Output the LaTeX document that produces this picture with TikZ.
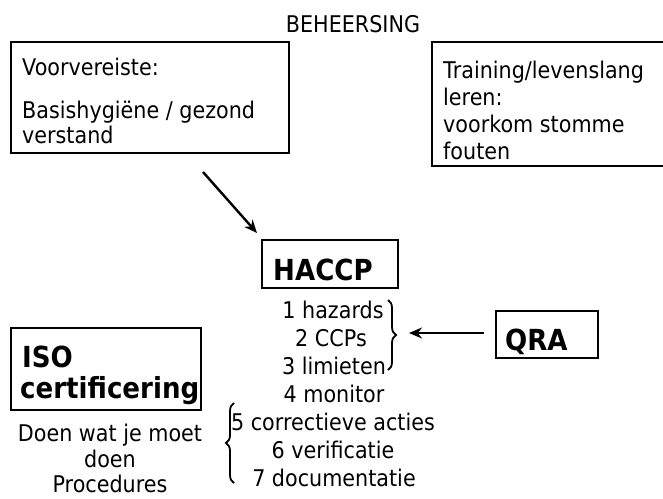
\documentclass[tikz,border=0pt]{standalone}
\usepackage{fontspec}
\setmainfont[FakeStretch=0.9]{DejaVu Sans}
\usetikzlibrary{decorations.pathreplacing,arrows.meta}
\begin{document}
\begin{tikzpicture}[x=1pt,y=-1pt,
  box/.style={draw,line width=2.2pt},
  txt/.style={font=\fontsize{23}{23}\selectfont,inner sep=0pt,anchor=base},
  ltxt/.style={txt,anchor=base west},
  bigb/.style={font=\fontsize{29}{29}\selectfont\bfseries,inner sep=0pt,anchor=base west},
  arr/.style={line width=2.4pt,-{Stealth[length=13pt,width=11pt]}},
  brc/.style={line width=1.8pt,decorate,decoration={brace,amplitude=8pt}}]
\useasboundingbox (0,0) rectangle (663,498);
\node[txt] (title) at (353,32) {BEHEERSING};
% box 1
\draw[box] (11,42) rectangle (289,153);
\node[ltxt] (v1) at (22,75) {Voorvereiste:};
\node[ltxt] (v2) at (22,118) {Basishygiëne / gezond};
\node[ltxt] (v3) at (22,143) {verstand};
% box 2 (runs past the right edge)
\draw[box] (432,42) rectangle (668,166);
\node[ltxt] (t1) at (443,78) {Training/levenslang};
\node[ltxt] (t2) at (443,105) {leren:};
\node[ltxt] (t3) at (443,132) {voorkom stomme};
\node[ltxt] (t4) at (443,159) {fouten};
% HACCP
\draw[box] (262,240) rectangle (398,288);
\node[bigb] (haccp) at (273,280) {HACCP};
\coordinate (a1s) at (203,172);
\coordinate (a1e) at (257,233);
\draw[arr] (a1s) -- (a1e);
% list
\node[txt] (l1) at (333,318) {1 hazards};
\node[txt] (l2) at (331,346) {2 CCPs};
\node[txt] (l3) at (334,374) {3 limieten};
\node[txt] (l4) at (334,402) {4 monitor};
\node[txt] (l5) at (333,430) {5 correctieve acties};
\node[txt] (l6) at (333,458) {6 verificatie};
\node[txt] (l7) at (334,486) {7 documentatie};
% right brace
\coordinate (rb1) at (388,300);
\coordinate (rb2) at (388,370);
\draw[brc] (rb1) -- (rb2);
% QRA
\draw[box] (496,311) rectangle (598,358);
\node[bigb] (qra) at (505,350) {QRA};
\coordinate (qs) at (484,333);
\coordinate (qe) at (409,333);
\draw[arr] (qs) -- (qe);
% ISO
\draw[box] (11,328) rectangle (201,410);
\node[bigb] (iso) at (22,367) {ISO};
\node[bigb] (cert) at (20,398) {certificering};
\node[txt] (d1) at (110,441) {Doen wat je moet};
\node[txt] (d2) at (110,467) {doen};
\node[txt] (d3) at (110,492) {Procedures};
% left brace
\coordinate (lb1) at (234,483);
\coordinate (lb2) at (234,403);
\draw[brc] (lb1) -- (lb2);
\end{tikzpicture}
\end{document}
